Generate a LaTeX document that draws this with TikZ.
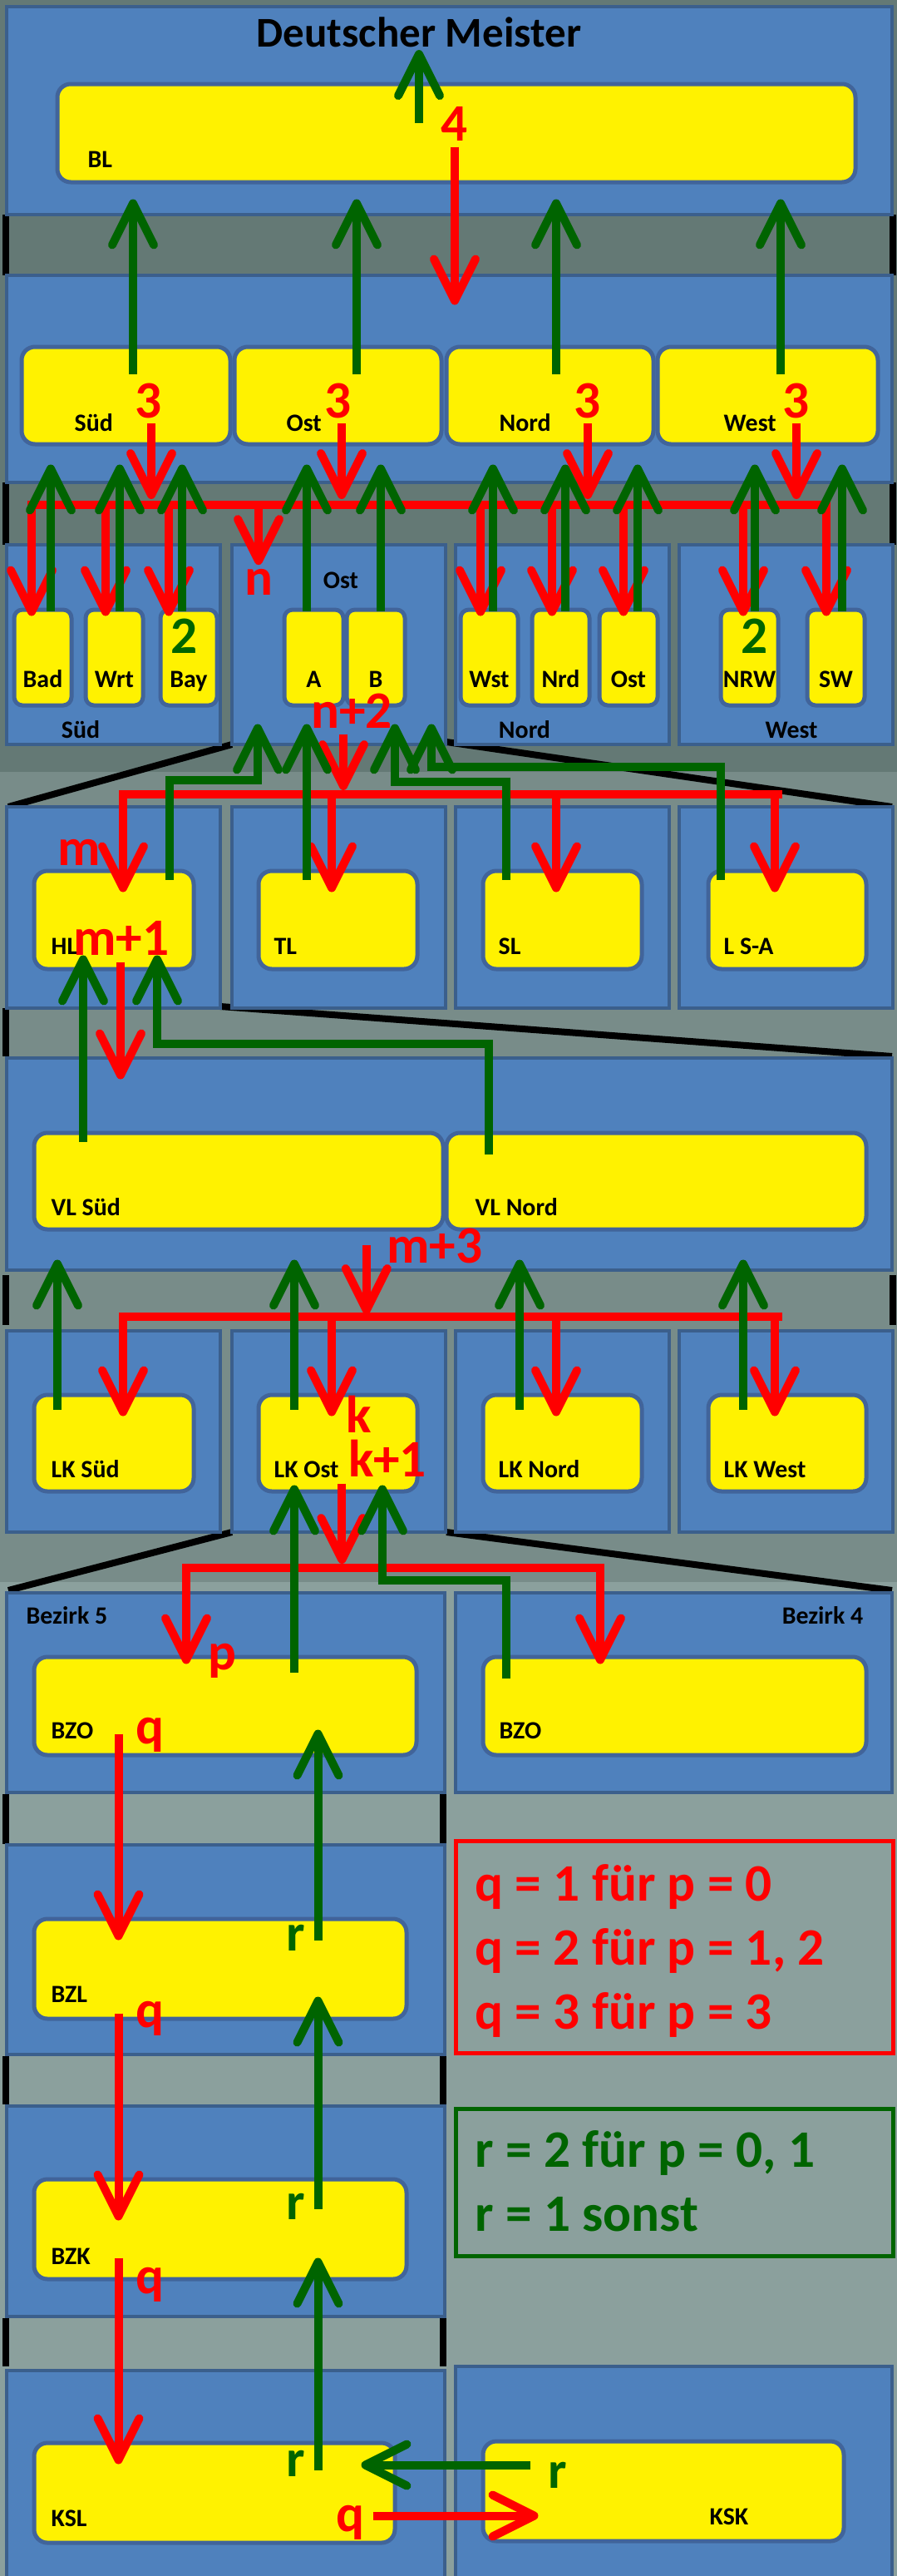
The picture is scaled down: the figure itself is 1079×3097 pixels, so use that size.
\documentclass[tikz,border=0pt]{standalone}
\usepackage{fontspec}
\setmainfont{Carlito}
\usetikzlibrary{arrows.meta,fit}

\definecolor{bgdark}{HTML}{647975}
\definecolor{bgmid}{HTML}{788C89}
\definecolor{bglight}{HTML}{8BA09D}
\definecolor{panelblue}{HTML}{4F81BD}
\definecolor{paneledge}{HTML}{3B5F8C}
\definecolor{boxedge}{HTML}{41649A}
\definecolor{dgreen}{HTML}{006400}

\tikzset{
  panel/.style={draw=paneledge, fill=panelblue, line width=0.4mm},
  ybox/.style={draw=boxedge, fill=yellow, line width=0.5mm, rounded corners=1.6mm, inner sep=0pt},
  lbl/.style={anchor=base west, inner sep=0pt, font=\bfseries\fontsize{8.5}{10}\selectfont},
  num/.style={anchor=base, inner sep=0pt, font=\bfseries\fontsize{18}{21}\selectfont},
  legend/.style={anchor=base west, inner sep=0pt, font=\bfseries\fontsize{18}{21}\selectfont},
  rarr/.style={draw=red, line width=1mm, -{Straight Barb[length=5mm,width=5mm,round]}},
  garr/.style={draw=dgreen, line width=1mm, -{Straight Barb[length=5mm,width=5mm,round]}},
  rline/.style={draw=red, line width=1mm, line cap=rect},
  tickbar/.style={draw=black, line width=0.8mm},
}

\begin{document}
\begin{tikzpicture}[x=0.1mm, y=-0.1mm]
\useasboundingbox (0,0) rectangle (1079,3097);

% background
\fill[bgdark] (0,0) rectangle (1079,928);
\fill[bgmid] (0,928) rectangle (1079,1902);
\fill[bglight] (0,1902) rectangle (1079,3097);

% black marks
\foreach \ya/\yb in {258/331, 580/655, 1533/1593}
  \draw[tickbar] (7,\ya) -- (7,\yb) (1074,\ya) -- (1074,\yb);
\draw[tickbar] (7,1212) -- (7,1270);
\foreach \ya/\yb in {2157/2217, 2472/2530, 2787/2845}
  \draw[tickbar] (7,\ya) -- (7,\yb) (533,\ya) -- (533,\yb);
\draw[tickbar] (279,895) -- (10,970);
\draw[tickbar] (537,892) -- (1073,970);
\draw[tickbar] (265,1210) -- (1073,1270);
\draw[tickbar] (279,1842) -- (10,1912);
\draw[tickbar] (537,1842) -- (1073,1912);

% panels
\draw[panel] (8,8) rectangle (1073,258);
\draw[panel] (8,331) rectangle (1073,580);
\foreach \x in {8,279,548,817} {
  \draw[panel] (\x,655) rectangle ++(257,240);
  \draw[panel] (\x,970) rectangle ++(257,242);
  \draw[panel] (\x,1600) rectangle ++(257,242);
}
\draw[panel] (8,1272) rectangle (1073,1527);
\draw[panel] (8,1915) rectangle (535,2155);
\draw[panel] (548,1915) rectangle (1073,2155);
\draw[panel] (8,2218) rectangle (535,2470);
\draw[panel] (8,2532) rectangle (535,2785);
\draw[panel] (8,2850) rectangle (535,3110);
\draw[panel] (548,2845) rectangle (1073,3110);

% leagues
\node[ybox, fit={(69,101) (1029,219)}] (bl) {};
\node[ybox, fit={(26,417) (277,534)}] (rlsued) {};
\node[ybox, fit={(282,417) (531,534)}] (rlost) {};
\node[ybox, fit={(537,417) (786,534)}] (rlnord) {};
\node[ybox, fit={(791,417) (1056,534)}] (rlwest) {};
\foreach \n/\xa/\xb in {bad/17/86, wrt/103/172, bay/193/261, osta/342/413, ostb/417/487,
    wst/554/623, nrd/640/709, ostc/721/791, nrw/867/936, sw/971/1040}
  \node[ybox, rounded corners=1mm, fit={(\xa,733) (\xb,848)}] (\n) {};
\foreach \n/\xa/\xb in {hl/41/233, tl/311/502, sl/581/772, lsa/852/1042}
  \node[ybox, fit={(\xa,1047) (\xb,1165)}] (\n) {};
\node[ybox, fit={(41,1362) (533,1478)}] (vlsued) {};
\node[ybox, fit={(537,1362) (1042,1478)}] (vlnord) {};
\foreach \n/\xa/\xb in {lksued/41/233, lkost/311/502, lknord/581/772, lkwest/852/1042}
  \node[ybox, fit={(\xa,1677) (\xb,1793)}] (\n) {};
\node[ybox, fit={(41,1992) (501,2110)}] (bzo5) {};
\node[ybox, fit={(581,1992) (1042,2110)}] (bzo4) {};
\node[ybox, fit={(41,2307) (489,2427)}] (bzl) {};
\node[ybox, fit={(41,2620) (489,2740)}] (bzk) {};
\node[ybox, fit={(41,2937) (475,3057)}] (ksl) {};
\node[ybox, fit={(581,2935) (1015,3055)}] (ksk) {};

% names
\node[anchor=base, inner sep=0pt, font=\bfseries\fontsize{14.5}{17}\selectfont] (dm) at (504,56) {Deutscher Meister};
\node[lbl] (tbl) at (105,201) {BL};
\node[lbl] (trlsued) at (89,518) {Süd};
\node[lbl] (trlost) at (344,518) {Ost};
\node[lbl] (trlnord) at (600,518) {Nord};
\node[lbl] (trlwest) at (870,518) {West};
\foreach \n/\txt in {bad/Bad, wrt/Wrt, bay/Bay, osta/A, ostb/B, wst/Wst, nrd/Nrd, ostc/Ost, nrw/NRW, sw/SW}
  \node[lbl, anchor=base] (t\n) at (\n.south |- 0,826) {\txt};
\node[lbl, anchor=base] (tgsued) at (97,887) {Süd};
\node[lbl, anchor=base] (tgost) at (410,707) {Ost};
\node[lbl, anchor=base] (tgnord) at (631,887) {Nord};
\node[lbl, anchor=base] (tgwest) at (952,887) {West};
\node[lbl] (thl) at (61,1147) {HL};
\node[lbl] (ttl) at (329,1147) {TL};
\node[lbl] (tsl) at (599,1147) {SL};
\node[lbl] (tlsa) at (870,1147) {L S-A};
\node[lbl] (tvlsued) at (61,1461) {VL Süd};
\node[lbl] (tvlnord) at (571,1461) {VL Nord};
\node[lbl] (tlksued) at (61,1776) {LK Süd};
\node[lbl] (tlkost) at (329,1776) {LK Ost};
\node[lbl] (tlknord) at (599,1776) {LK Nord};
\node[lbl] (tlkwest) at (870,1776) {LK West};
\node[lbl] (tbez5) at (31,1952) {Bezirk 5};
\node[lbl, anchor=base east] (tbez4) at (1039,1952) {Bezirk 4};
\node[lbl] (tbzo5) at (61,2090) {BZO};
\node[lbl] (tbzo4) at (600,2090) {BZO};
\node[lbl] (tbzl) at (61,2407) {BZL};
\node[lbl] (tbzk) at (61,2722) {BZK};
\node[lbl] (tksl) at (61,3037) {KSL};
\node[lbl] (tksk) at (853,3035) {KSK};

% counts
\node[num, text=red] (lab4) at (547,169) {4};
\node[num, text=red] (lab3sued) at (179,502) {3};
\node[num, text=red] (lab3ost) at (407,502) {3};
\node[num, text=red] (lab3nord) at (707,502) {3};
\node[num, text=red] (lab3west) at (958,502) {3};
\node[num, text=dgreen] (lab2bay) at (222,785) {2};
\node[num, text=dgreen] (lab2nrw) at (908,785) {2};
\node[num, text=red] (labn) at (311,715) {n};
\node[num, text=red] (labn2) at (423,875) {n+2};
\node[num, text=red] (labm) at (95,1040) {m};
\node[num, text=red] (labm1) at (146,1148) {m+1};
\node[num, text=red] (labm3) at (523,1518) {m+3};
\node[num, text=red] (labk) at (432,1722) {k};
\node[num, text=red] (labk1) at (466,1775) {k+1};
\node[num, text=red] (labp) at (267,2007) {p};
\node[num, text=red] (labq1) at (180,2096) {q};
\node[num, text=red] (labq2) at (180,2437) {q};
\node[num, text=red] (labq3) at (180,2757) {q};
\node[num, text=red] (labq4) at (421,3043) {q};
\node[num, text=dgreen] (labr1) at (356,2345) {r};
\node[num, text=dgreen] (labr2) at (356,2668) {r};
\node[num, text=dgreen] (labr3) at (356,2977) {r};
\node[num, text=dgreen] (labr4) at (671,2991) {r};

% legend
\draw[red, line width=0.5mm] (548,2213) rectangle (1074,2468);
\node[legend, text=red] (leg1) at (571,2285) {q = 1 für p = 0};
\node[legend, text=red] (leg2) at (571,2362) {q = 2 für p = 1, 2};
\node[legend, text=red] (leg3) at (571,2439) {q = 3 für p = 3};
\draw[dgreen, line width=0.5mm] (548,2535) rectangle (1074,2712);
\node[legend, text=dgreen] (leg4) at (571,2605) {r = 2 für p = 0, 1};
\node[legend, text=dgreen] (leg5) at (571,2682) {r = 1 sonst};

% BL
\draw[garr] ([shift={(0,49)}]bl.north -| dm.south) -- ([shift={(0,3)}]dm.south);
\draw[rarr] ([shift={(0,7)}]lab4.south) -- ([shift={(0,-48)}]lab4.south |- rlost.north);
\foreach \x in {160,429,669,939}
  \draw[garr] ([shift={(0,35)}]\x,0 |- rlsued.north) -- ([shift={(0,18)}]\x,0 |- bl.south);

% Regionalliga to Verbaende
\coordinate (busa) at (38,607);
\coordinate (busb) at (994,607);
\draw[rline] (busa) -- (busb);
\foreach \n/\d in {sued/3, ost/4, nord/0, west/0}
  \draw[rarr] ([shift={(\d,6)}]lab3\n.south) -- ([shift={(\d,-7)}]lab3\n.south |- busa);
\foreach \n/\x in {bad/38, wrt/127, bay/203, wst/578, nrd/664, ostc/750, nrw/894, sw/994}
  \draw[rarr] (\x,0 |- busa) -- ([shift={(0,10)}]\x,0 |- \n.north);
\draw[rarr] (labn.north |- busa) -- ([shift={(0,-4)}]labn.north);
\foreach \n/\x in {bad/61, wrt/144, bay/219, osta/369, ostb/458, wst/593, nrd/680, ostc/767, nrw/908, sw/1013}
  \draw[garr] ([shift={(0,4)}]\x,0 |- \n.north) -- ([shift={(0,22)}]\x,0 |- rlsued.south);

% Ost to HL TL SL L S-A
\coordinate (busc) at (148,955);
\coordinate (busd) at (936,955);
\draw[rline] (busc) -- (busd);
\draw[rarr] ([shift={(-10,7)}]labn2.south) -- ([shift={(-10,-5)}]labn2.south |- busc);
\foreach \n/\x in {hl/148, tl/399, sl/669, lsa/932}
  \draw[rarr] (\x,0 |- busc) -- ([shift={(0,28)}]\x,0 |- \n.north);
\draw[garr] ([shift={(0,13)}]204,0 |- hl.north) |- (310,938) -- ([shift={(0,20)}]310,0 |- osta.south);
\draw[garr] ([shift={(0,13)}]369,0 |- tl.north) -- ([shift={(0,20)}]369,0 |- osta.south);
\draw[garr] ([shift={(0,13)}]609,0 |- sl.north) |- (475,940) -- ([shift={(0,20)}]475,0 |- osta.south);
\draw[garr] ([shift={(0,13)}]867,0 |- lsa.north) |- (519,922) -- ([shift={(0,20)}]519,0 |- osta.south);

% HL and VL
\draw[rarr] ([shift={(-1,8)}]labm1.south) -- ([shift={(-1,-62)}]labm1.south |- vlsued.north);
\draw[garr] ([shift={(0,13)}]100,0 |- vlsued.north) -- ([shift={(0,-19)}]100,0 |- hl.south);
\draw[garr] ([shift={(0,28)}]588,0 |- vlnord.north) |- (189,1255) -- ([shift={(0,-19)}]189,0 |- hl.south);

% VL to LK
\coordinate (buse) at (148,1583);
\coordinate (busf) at (936,1583);
\draw[rline] (buse) -- (busf);
\draw[rarr] ([shift={(-24,0)}]labm3.west) -- ([shift={(-24,-3)}]labm3.west |- buse);
\foreach \n/\x in {lksued/148, lkost/399, lknord/669, lkwest/932}
  \draw[rarr] (\x,0 |- buse) -- ([shift={(0,28)}]\x,0 |- \n.north);
\foreach \n/\x in {lksued/69, lkost/354, lknord/625, lkwest/894}
  \draw[garr] ([shift={(0,20)}]\x,0 |- \n.north) -- ([shift={(0,34)}]\x,0 |- vlsued.south);

% LK Ost to Bezirke
\coordinate (busg) at (224,1885);
\coordinate (bush) at (722,1885);
\draw[rline] (busg) -- (bush);
\draw[rarr] ([shift={(-7,8)}]labk1.south west) -- ([shift={(-7,-5)}]labk1.south west |- busg);
\draw[rarr] (busg) -- ([shift={(0,11)}]busg |- bzo5.north);
\draw[rarr] (bush) -- ([shift={(0,11)}]bush |- bzo4.north);
\draw[garr] ([shift={(0,21)}]354,0 |- bzo5.north) -- ([shift={(0,-10)}]354,0 |- lkost.south);
\draw[garr] ([shift={(0,28)}]609,0 |- bzo4.north) |- (460,1900) -- ([shift={(0,-10)}]460,0 |- lkost.south);

% Bezirk 5 down to Kreis
\draw[rarr] ([shift={(104,-28)}]bzo5.south west) -- ([shift={(104,28)}]bzl.north west);
\draw[rarr] ([shift={(104,-9)}]bzl.south west) -- ([shift={(104,52)}]bzk.north west);
\draw[rarr] ([shift={(104,-28)}]bzk.south west) -- ([shift={(104,28)}]ksl.north west);
\draw[garr] ([shift={(344,28)}]bzl.north west) -- ([shift={(344,-33)}]bzo5.south west);
\draw[garr] ([shift={(344,38)}]bzk.north west) -- ([shift={(344,-29)}]bzl.south west);
\draw[garr] ([shift={(344,35)}]ksl.north west) -- ([shift={(344,-28)}]bzk.south west);
\draw[garr] ([shift={(59,31)}]ksk.north west) -- ([shift={(-43,29)}]ksl.north east);
\draw[rarr] ([shift={(-29,90)}]ksl.north east) -- ([shift={(69,92)}]ksk.north west);

\end{tikzpicture}
\end{document}
